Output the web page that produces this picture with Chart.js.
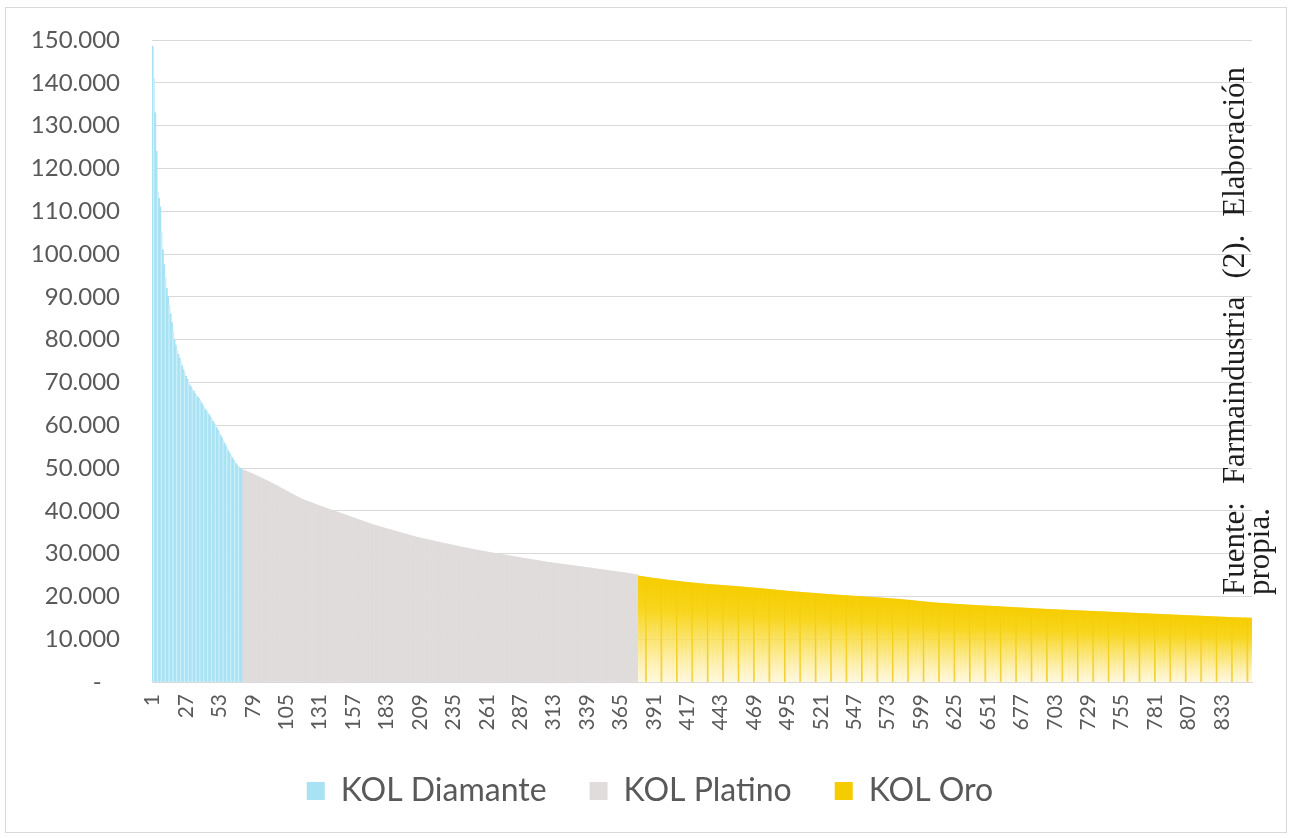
<!DOCTYPE html>
<html lang="es">
<head>
<meta charset="utf-8">
<title>KOL</title>
<script src="https://cdn.jsdelivr.net/npm/chart.js@4.4.1/dist/chart.umd.min.js"></script>
<style>
    html, body { margin: 0; padding: 0; background: #fff; }
    canvas { display: block; }
</style>
</head>
<body>
<canvas id="kolChart" width="1290" height="838"></canvas>
<script>
// importe por KOL, ordenado de mayor a menor
const diamante = [
    148500, 141000, 133000, 124000, 114500, 113000, 111000, 105000, 101000, 97500,
    94500, 92000, 90000, 88000, 86000, 84000, 82000, 80000, 78700, 77600,
    76600, 75700, 74800, 73900, 73000, 72200, 71400, 70700, 70000, 69400,
    68900, 68400, 67900, 67400, 67000, 66600, 66200, 65800, 65300, 64700,
    64200, 63700, 63300, 62900, 62400, 61900, 61400, 60900, 60400, 59900,
    59400, 58800, 58200, 57600, 57000, 56400, 55800, 55200, 54600, 54000,
    53400, 52900, 52400, 51900, 51400, 51000, 50600, 50300, 50000, 49800
];
const platino = [
    49600, 49450, 49380, 49250, 49100, 49020, 48850, 48700, 48620, 48440,
    48300, 48180, 48020, 47900, 47720, 47600, 47480, 47300, 47150, 47050,
    46880, 46700, 46590, 46420, 46300, 46130, 45980, 45850, 45640, 45450,
    45300, 45150, 45000, 44820, 44650, 44500, 44350, 44180, 44000, 43850,
    43700, 43520, 43380, 43200, 43060, 42900, 42760, 42600, 42480, 42400,
    42300, 42180, 42060, 41950, 41840, 41720, 41610, 41500, 41390, 41280,
    41170, 41060, 40950, 40840, 40730, 40620, 40510, 40400, 40300, 40200,
    40100, 40000, 39890, 39780, 39680, 39570, 39460, 39350, 39250, 39140,
    39030, 38920, 38820, 38710, 38600, 38500, 38390, 38280, 38180, 38070,
    37960, 37860, 37750, 37640, 37540, 37430, 37320, 37220, 37110, 37000,
    36900, 36810, 36720, 36630, 36540, 36450, 36360, 36270, 36180, 36090,
    36000, 35920, 35830, 35750, 35660, 35580, 35490, 35410, 35320, 35240,
    35150, 35070, 34980, 34900, 34810, 34730, 34640, 34560, 34470, 34390,
    34300, 34220, 34130, 34050, 33960, 33880, 33800, 33730, 33660, 33590,
    33520, 33460, 33390, 33320, 33260, 33190, 33120, 33060, 32990, 32920,
    32860, 32790, 32730, 32660, 32600, 32530, 32470, 32400, 32340, 32270,
    32210, 32140, 32080, 32010, 31950, 31880, 31820, 31750, 31690, 31620,
    31560, 31500, 31440, 31380, 31320, 31260, 31200, 31140, 31080, 31020,
    30960, 30910, 30850, 30800, 30740, 30690, 30630, 30580, 30520, 30470,
    30410, 30360, 30300, 30250, 30190, 30140, 30080, 30030, 29980, 29930,
    29880, 29830, 29780, 29730, 29680, 29620, 29570, 29520, 29470, 29420,
    29370, 29320, 29270, 29220, 29170, 29120, 29060, 29010, 28960, 28910,
    28860, 28810, 28760, 28710, 28660, 28610, 28560, 28510, 28460, 28410,
    28360, 28310, 28260, 28200, 28150, 28100, 28050, 28000, 27960, 27920,
    27880, 27840, 27800, 27760, 27720, 27680, 27640, 27600, 27560, 27520,
    27480, 27440, 27400, 27360, 27320, 27280, 27240, 27190, 27150, 27110,
    27070, 27030, 26990, 26950, 26910, 26870, 26830, 26790, 26750, 26710,
    26670, 26620, 26580, 26540, 26500, 26450, 26400, 26360, 26320, 26280,
    26240, 26200, 26160, 26110, 26070, 26030, 25990, 25950, 25900, 25860,
    25820, 25780, 25740, 25690, 25650, 25610, 25570, 25520, 25480, 25440,
    25400, 25350, 25300, 25250, 25200, 25160, 25120, 25080
];
const oro = [
    24800, 24750, 24700, 24650, 24600, 24550, 24500, 24450, 24410, 24370,
    24330, 24290, 24250, 24210, 24170, 24130, 24090, 24050, 24010, 23970,
    23930, 23890, 23850, 23810, 23780, 23740, 23700, 23670, 23630, 23600,
    23560, 23530, 23490, 23460, 23420, 23390, 23360, 23320, 23290, 23260,
    23230, 23200, 23170, 23140, 23110, 23080, 23050, 23020, 22990, 22960,
    22930, 22910, 22880, 22850, 22830, 22800, 22780, 22750, 22730, 22710,
    22690, 22670, 22650, 22630, 22610, 22590, 22560, 22540, 22520, 22500,
    22480, 22450, 22430, 22400, 22380, 22350, 22330, 22300, 22280, 22250,
    22230, 22200, 22180, 22150, 22130, 22100, 22080, 22050, 22030, 22000,
    21980, 21950, 21930, 21900, 21880, 21850, 21830, 21800, 21770, 21740,
    21710, 21680, 21650, 21620, 21590, 21560, 21530, 21500, 21470, 21440,
    21410, 21380, 21350, 21320, 21290, 21260, 21230, 21200, 21170, 21140,
    21120, 21100, 21070, 21050, 21030, 21000, 20980, 20960, 20930, 20910,
    20890, 20860, 20840, 20820, 20790, 20770, 20750, 20720, 20700, 20680,
    20650, 20630, 20610, 20580, 20560, 20540, 20510, 20490, 20470, 20440,
    20420, 20400, 20380, 20360, 20340, 20320, 20300, 20280, 20260, 20240,
    20220, 20200, 20180, 20160, 20140, 20120, 20100, 20080, 20060, 20040,
    20020, 20000, 19980, 19960, 19940, 19920, 19900, 19880, 19860, 19840,
    19820, 19800, 19780, 19760, 19740, 19720, 19700, 19680, 19660, 19640,
    19620, 19600, 19570, 19550, 19530, 19500, 19480, 19460, 19440, 19420,
    19400, 19380, 19350, 19330, 19300, 19270, 19240, 19210, 19180, 19150,
    19120, 19090, 19060, 19030, 19000, 18970, 18940, 18900, 18870, 18840,
    18810, 18780, 18750, 18720, 18690, 18660, 18630, 18600, 18570, 18540,
    18520, 18500, 18480, 18460, 18440, 18420, 18400, 18380, 18360, 18340,
    18320, 18300, 18280, 18260, 18240, 18220, 18200, 18190, 18170, 18150,
    18130, 18110, 18090, 18070, 18050, 18030, 18010, 17990, 17970, 17960,
    17940, 17920, 17900, 17880, 17870, 17850, 17830, 17820, 17800, 17790,
    17770, 17760, 17740, 17730, 17720, 17700, 17690, 17670, 17660, 17640,
    17620, 17600, 17590, 17570, 17550, 17540, 17520, 17500, 17490, 17470,
    17450, 17440, 17420, 17400, 17390, 17370, 17350, 17340, 17320, 17300,
    17290, 17270, 17250, 17240, 17220, 17200, 17190, 17170, 17150, 17140,
    17120, 17100, 17090, 17070, 17050, 17040, 17020, 17000, 16990, 16970,
    16960, 16950, 16940, 16920, 16910, 16900, 16880, 16870, 16860, 16840,
    16830, 16820, 16800, 16790, 16780, 16760, 16750, 16740, 16720, 16710,
    16700, 16680, 16670, 16660, 16640, 16630, 16620, 16600, 16590, 16580,
    16560, 16550, 16540, 16520, 16510, 16500, 16480, 16470, 16460, 16440,
    16430, 16420, 16400, 16390, 16380, 16360, 16350, 16340, 16320, 16310,
    16300, 16280, 16270, 16260, 16240, 16230, 16220, 16200, 16190, 16180,
    16160, 16150, 16140, 16120, 16110, 16100, 16080, 16070, 16060, 16040,
    16030, 16020, 16000, 15990, 15980, 15960, 15950, 15940, 15920, 15910,
    15900, 15880, 15870, 15860, 15840, 15830, 15820, 15800, 15790, 15780,
    15760, 15750, 15740, 15720, 15710, 15700, 15680, 15670, 15660, 15640,
    15630, 15620, 15600, 15590, 15580, 15560, 15550, 15540, 15520, 15510,
    15500, 15480, 15470, 15460, 15440, 15430, 15420, 15400, 15390, 15380,
    15360, 15350, 15340, 15320, 15310, 15300, 15280, 15270, 15260, 15240,
    15230, 15220, 15200, 15190, 15180, 15160, 15150, 15140, 15120, 15110,
    15100, 15090, 15080, 15070, 15060, 15050, 15040, 15030, 15020, 15010,
    15000, 14990, 14980, 14970, 14960, 14950, 14940, 14930
];

const seriesNames = ['KOL Diamante', 'KOL Platino', 'KOL Oro'];
const labelStep = 26;          // se rotula 1, 27, 53, ...
const yMax = 150000;
const yStep = 10000;
const sourceLines = ['Fuente: Farmaindustria (2). Elaboración', 'propia.'];

const total = diamante.length + platino.length + oro.length;
const oroStart = diamante.length + platino.length;
const labels = Array.from({ length: total }, (_, i) => String(i + 1));

// cada serie ocupa su propio tramo del eje, el resto queda vacio
function placeAt(values, start) {
    const out = new Array(total).fill(null);
    values.forEach((v, i) => { out[start + i] = v; });
    return out;
}

// 150000 -> "150.000", 0 -> "-"
function fmtMiles(v) {
    if (v === 0) return '-   ';
    return String(v).replace(/\B(?=(\d{3})+(?!\d))/g, '.');
}

// azul con alguna barra mas clara, como en el grafico original
function diamanteFill(ctx) {
    if (ctx.type !== 'data') return '#A7E3F5';
    return ctx.dataIndex % 3 === 1 ? '#CBEEF9' : '#A7E3F5';
}

// degradado vertical de cada barra oro: dorado arriba, casi blanco abajo
function oroFill(ctx) {
    const chart = ctx.chart;
    const y = chart.scales.y;
    if (!y || ctx.type !== 'data' || ctx.raw == null) return '#F5CC00';
    const top = y.getPixelForValue(ctx.raw);
    const bottom = y.getPixelForValue(0);
    const g = chart.ctx.createLinearGradient(0, top, 0, bottom);
    if ((ctx.dataIndex - oroStart) % 12 === 6) {
        g.addColorStop(0, '#F6CD00');
        g.addColorStop(1, '#F1D23C');
        return g;
    }
    g.addColorStop(0, '#F6CD00');
    g.addColorStop(0.3, '#F8D51C');
    g.addColorStop(0.65, 'rgba(250,226,100,0.7)');
    g.addColorStop(1, 'rgba(255,240,180,0.35)');
    return g;
}

const framePlugin = {
    id: 'frame',
    afterLayout(chart) {
        // centrar la leyenda bajo el area de trazado
        chart.legend.left += 14;
        chart.legend.right += 14;
    },
    beforeDraw(chart) {
        const c = chart.ctx;
        c.save();
        c.fillStyle = '#fff';
        c.fillRect(0, 0, chart.width, chart.height);
        c.strokeStyle = '#D9D9D9';
        c.lineWidth = 1;
        c.strokeRect(5.5, 7.5, 1281, 825);
        c.restore();
    },
    afterDraw(chart) {
        // nota de fuente en vertical, primera linea justificada
        const c = chart.ctx;
        c.save();
        c.fillStyle = '#1e1e1e';
        c.font = '31px "Liberation Serif"';
        c.textBaseline = 'alphabetic';
        c.translate(1244, 595);
        c.rotate(-Math.PI / 2);
        const words = sourceLines[0].split(' ');
        const natural = words.reduce((s, w) => s + c.measureText(w).width, 0);
        const gap = Math.max((528 - natural) / (words.length - 1), c.measureText(' ').width);
        let x = 0;
        words.forEach(w => {
            c.fillText(w, x, 0);
            x += c.measureText(w).width + gap;
        });
        c.fillText(sourceLines[1], 0, 25);
        c.restore();
    }
};

new Chart(document.getElementById('kolChart'), {
    type: 'bar',
    data: {
        labels: labels,
        datasets: [
            { label: seriesNames[0], data: placeAt(diamante, 0), backgroundColor: diamanteFill },
            { label: seriesNames[1], data: placeAt(platino, diamante.length), backgroundColor: '#DFDCDB' },
            { label: seriesNames[2], data: placeAt(oro, oroStart), backgroundColor: oroFill }
        ]
    },
    options: {
        responsive: false,
        animation: false,
        devicePixelRatio: 1,
        datasets: {
            bar: { grouped: false, barPercentage: 1, categoryPercentage: 1, borderWidth: 0 }
        },
        layout: { padding: { left: 20, right: 38, top: 40, bottom: 21 } },
        plugins: {
            legend: {
                position: 'bottom',
                labels: {
                    font: { family: 'Lato', size: 32 },
                    color: '#595959',
                    boxWidth: 18,
                    boxHeight: 18,
                    padding: 43
                }
            },
            tooltip: { enabled: false }
        },
        scales: {
            x: {
                grid: { display: false, drawTicks: false },
                border: { display: true, color: '#D9D9D9' },
                ticks: {
                    autoSkip: false,
                    minRotation: 90,
                    maxRotation: 90,
                    padding: 12,
                    color: '#595959',
                    font: { family: 'Lato', size: 21 },
                    callback: function (value, index) {
                        return index % labelStep === 0 ? this.getLabelForValue(value) : null;
                    }
                },
                afterFit(scale) { scale.height = 50; }
            },
            y: {
                min: 0,
                max: yMax,
                grid: { color: '#D9D9D9', drawTicks: false },
                border: { display: false },
                ticks: {
                    stepSize: yStep,
                    padding: 32,
                    color: '#595959',
                    font: { family: 'Lato', size: 24 },
                    callback: v => fmtMiles(v)
                },
                afterFit(scale) {
                    scale.width = 132;
                    // el margen de las etiquetas no debe empujar el borde superior
                    scale.paddingTop = 14;
                    scale.paddingBottom = 14;
                }
            }
        }
    },
    plugins: [framePlugin]
});
</script>
</body>
</html>
